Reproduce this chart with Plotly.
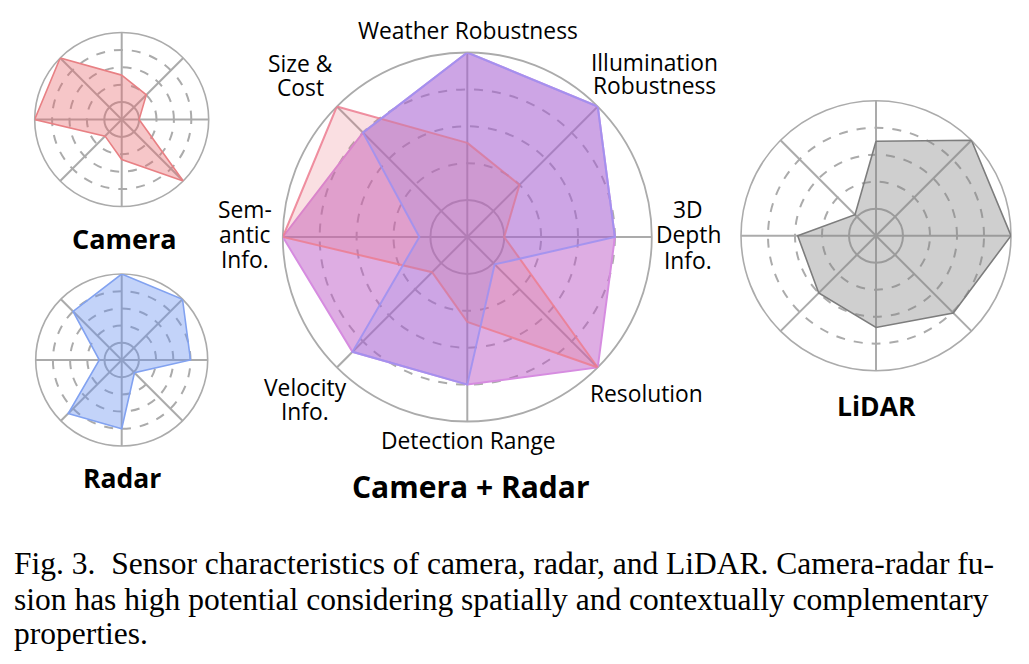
import plotly.graph_objects as go

W, H = 1029, 664

# ---------------- data ----------------
categories = ["Weather Robustness", "Illumination Robustness", "3D Depth Info.",
              "Resolution", "Detection Range", "Velocity Info.",
              "Semantic Info.", "Size & Cost"]
camera_vals = [2.55, 2.0, 1.0, 5.0, 2.3, 1.35, 5.0, 5.0]
radar_vals = [5.0, 5.0, 4.0, 1.05, 4.0, 4.4, 1.3, 4.0]
fusion_vals = [5.0, 5.0, 4.0, 5.0, 4.0, 4.4, 5.0, 4.0]
lidar_vals = [3.5, 5.0, 5.0, 4.05, 3.4, 3.0, 2.9, 1.1]

# axis label text lines (as printed around the central chart)
label_lines = [["Weather Robustness"], ["Illumination", "Robustness"],
               ["3D", "Depth", "Info."], ["Resolution"], ["Detection Range"],
               ["Velocity", "Info."], ["Sem-", "antic", "Info."], ["Size &", "Cost"]]
titles = ["Camera", "Radar", "Camera + Radar", "LiDAR"]
caption_lines = [
    "Fig. 3.  Sensor characteristics of camera, radar, and LiDAR. Camera-radar fu-",
    "sion has high potential considering spatially and contextually complementary",
    "properties.",
]

# ---------------- layout helpers ----------------
def px(x):
    return x / W

def py(y):
    return 1 - y / H

def dom(cx, cy, r):
    return dict(x=[px(cx - r), px(cx + r)], y=[py(cy + r), py(cy - r)])

GRID = "#ababab"

def base_polar(d, gw):
    return dict(
        domain=d, bgcolor="rgba(0,0,0,0)",
        radialaxis=dict(range=[0, 5], tickvals=[1], showticklabels=False, ticks="",
                        showline=False, gridcolor=GRID, gridwidth=gw),
        angularaxis=dict(type="category", categoryarray=categories, rotation=90,
                         direction="clockwise", showticklabels=False, ticks="",
                         showline=True, linecolor=GRID, linewidth=gw,
                         gridcolor=GRID, gridwidth=gw),
    )

def top_polar(d, gw):
    return dict(
        domain=d, bgcolor="rgba(0,0,0,0)",
        radialaxis=dict(range=[0, 5], tickvals=[2, 3, 4], showticklabels=False, ticks="",
                        showline=False, gridcolor=GRID, gridwidth=gw, griddash="dash"),
        angularaxis=dict(type="category", categoryarray=categories, rotation=90,
                         direction="clockwise", showticklabels=False, ticks="",
                         showline=False, showgrid=False),
    )

panels = {
    "cam": (121.7, 119.5, 87, 1.6),
    "rad": (121.7, 360.0, 86, 1.6),
    "fus": (467.3, 237.0, 184.5, 1.8),
    "lid": (876.0, 235.7, 135, 1.6),
}

fig = go.Figure()
layout = {}
idx = 1
subplot_of = {}
for key, (cx, cy, r, gw) in panels.items():
    d = dom(cx, cy, r)
    b = "polar" if idx == 1 else f"polar{idx}"
    t = f"polar{idx + 1}"
    layout[b] = base_polar(d, gw)
    layout[t] = top_polar(d, gw)
    subplot_of[key] = (b, t)
    idx += 2

def closed(v):
    return list(v) + [v[0]]

theta_c = closed(categories)

def add_invisible(sub):
    fig.add_trace(go.Scatterpolar(r=closed(lidar_vals), theta=theta_c, mode="lines",
                                  line=dict(width=0), opacity=0, hoverinfo="skip",
                                  showlegend=False, subplot=sub))

def add_area(vals, sub, fillc, linec, lw):
    fig.add_trace(go.Scatterpolar(r=closed(vals), theta=theta_c, mode="lines",
                                  fill="toself", fillcolor=fillc,
                                  line=dict(color=linec, width=lw),
                                  showlegend=False, subplot=sub))

for key in panels:
    add_invisible(subplot_of[key][0])

add_area(camera_vals, subplot_of["cam"][1], "rgba(232,105,110,0.38)", "rgb(232,128,132)", 1.6)
add_area(radar_vals, subplot_of["rad"][1], "rgba(105,145,240,0.40)", "rgb(130,162,240)", 1.6)
add_area(fusion_vals, subplot_of["fus"][1], "rgba(190,92,200,0.50)", "rgb(214,140,224)", 2.0)
add_area(camera_vals, subplot_of["fus"][1], "rgba(232,110,125,0.22)", "rgba(236,125,145,0.85)", 2.0)
add_area(radar_vals, subplot_of["fus"][1], "rgba(110,120,240,0.15)", "rgba(160,145,240,0.9)", 2.0)
add_area(lidar_vals, subplot_of["lid"][1], "rgba(128,128,128,0.38)", "rgb(125,125,125)", 1.6)

annotations = []
LABEL_FONT = dict(family="Open Sans", size=22.8, color="black")
label_pos = [
    (468, [30]), (654, [62, 85]), (688, [210, 235, 260]), (646, [393]),
    (468, [440]), (305, [387, 411]), (245, [210, 235, 259]), (300, [64, 88]),
]
for lines, (x, ys) in zip(label_lines, label_pos):
    for line, y in zip(lines, ys):
        annotations.append(dict(text=line, x=px(x), y=py(y), xref="paper", yref="paper",
                                xanchor="center", yanchor="middle", showarrow=False,
                                font=LABEL_FONT))

title_pos = [(124, 238, 27), (122, 478, 26.5), (471, 486, 30), (876, 406, 26.5)]
for txt, (x, y, s) in zip(titles, title_pos):
    annotations.append(dict(text=f"<b>{txt}</b>", x=px(x), y=py(y), xref="paper", yref="paper",
                            xanchor="center", yanchor="middle", showarrow=False,
                            font=dict(family="Open Sans", size=s, color="black")))

cap_y = [563, 599, 633]
for line, y in zip(caption_lines, cap_y):
    annotations.append(dict(text=line, x=px(12), y=py(y), xref="paper", yref="paper",
                            xanchor="left", yanchor="middle", showarrow=False,
                            font=dict(family="Liberation Serif", size=31.5, color="black")))

fig.update_layout(width=W, height=H, margin=dict(l=0, r=0, t=0, b=0),
                  paper_bgcolor="white", plot_bgcolor="white",
                  annotations=annotations, showlegend=False, **layout)

fig.write_html("out.html")
